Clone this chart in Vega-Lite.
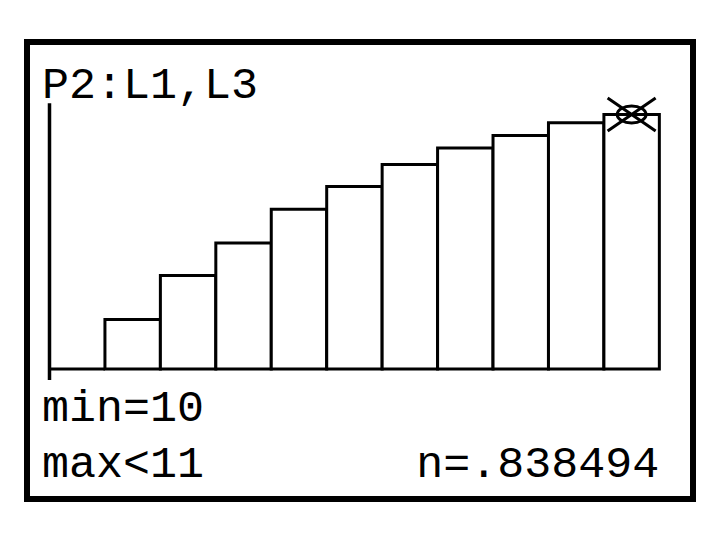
{
  "$schema": "https://vega.github.io/schema/vega-lite/v6.json",
  "width": 666,
  "height": 457,
  "autosize": {"type": "none"},
  "padding": {"left": 27, "top": 42, "right": 27, "bottom": 41},
  "background": "white",
  "config": {
    "view": {"stroke": "black", "strokeWidth": 6, "fill": "white"},
    "text": {"font": "Courier New, Courier, Nimbus Mono PS, FreeMono, Liberation Mono, monospace", "fontSize": 45, "color": "black", "baseline": "alphabetic"}
  },
  "datasets": {
    "bins": [
      {"bin_start": 0, "bin_end": 1, "n": 0},
      {"bin_start": 1, "bin_end": 2, "n": 0.163},
      {"bin_start": 2, "bin_end": 3, "n": 0.308},
      {"bin_start": 3, "bin_end": 4, "n": 0.415},
      {"bin_start": 4, "bin_end": 5, "n": 0.526},
      {"bin_start": 5, "bin_end": 6, "n": 0.601},
      {"bin_start": 6, "bin_end": 7, "n": 0.674},
      {"bin_start": 7, "bin_end": 8, "n": 0.728},
      {"bin_start": 8, "bin_end": 9, "n": 0.769},
      {"bin_start": 9, "bin_end": 10, "n": 0.811},
      {"bin_start": 10, "bin_end": 11, "n": 0.838494}
    ],
    "cursor": [{"x": 10.5, "n": 0.838494}],
    "one": [{}]
  },
  "layer": [
    {
      "data": {"name": "bins"},
      "mark": {"type": "rect", "fill": "white", "stroke": "black", "strokeWidth": 3},
      "encoding": {
        "x": {"field": "bin_start", "type": "quantitative", "scale": {"domain": [-0.4058, 11.607], "nice": false, "zero": false}, "axis": null},
        "x2": {"field": "bin_end"},
        "y": {"field": "n", "type": "quantitative", "scale": {"domain": [-0.4283, 1.0774], "nice": false, "zero": false}, "axis": null},
        "y2": {"datum": 0}
      }
    },
    {
      "data": {"name": "one"},
      "mark": {"type": "rule", "stroke": "black", "strokeWidth": 3.5},
      "encoding": {
        "x": {"datum": 0, "type": "quantitative"},
        "y": {"datum": 0.876, "type": "quantitative"},
        "y2": {"datum": -0.036}
      }
    },
    {
      "data": {"name": "cursor"},
      "mark": {"type": "point", "filled": false, "stroke": "black", "strokeWidth": 3, "size": 2304, "opacity": 1,
        "shape": "M-1,-0.69L1,0.69M-1,0.69L1,-0.69"},
      "encoding": {
        "x": {"field": "x", "type": "quantitative"},
        "y": {"field": "n", "type": "quantitative"}
      }
    },
    {
      "data": {"name": "cursor"},
      "mark": {"type": "point", "filled": false, "stroke": "black", "strokeWidth": 3, "size": 2304, "opacity": 1,
        "shape": "M-0.6,0A0.6,0.35 0 1,0 0.6,0A0.6,0.35 0 1,0 -0.6,0Z"},
      "encoding": {
        "x": {"field": "x", "type": "quantitative"},
        "y": {"field": "n", "type": "quantitative"}
      }
    },
    {
      "data": {"name": "one"},
      "mark": {"type": "text", "align": "left"},
      "encoding": {
        "x": {"datum": -0.135, "type": "quantitative"},
        "y": {"datum": 0.893, "type": "quantitative"},
        "text": {"value": "P2:L1,L3"}
      }
    },
    {
      "data": {"name": "one"},
      "mark": {"type": "text", "align": "left"},
      "encoding": {
        "x": {"datum": -0.135, "type": "quantitative"},
        "y": {"datum": -0.171, "type": "quantitative"},
        "text": {"value": "min=10"}
      }
    },
    {
      "data": {"name": "one"},
      "mark": {"type": "text", "align": "left"},
      "encoding": {
        "x": {"datum": -0.135, "type": "quantitative"},
        "y": {"datum": -0.355, "type": "quantitative"},
        "text": {"value": "max<11"}
      }
    },
    {
      "data": {"name": "one"},
      "mark": {"type": "text", "align": "right"},
      "encoding": {
        "x": {"datum": 11, "type": "quantitative"},
        "y": {"datum": -0.355, "type": "quantitative"},
        "text": {"value": "n=.838494"}
      }
    }
  ]
}
